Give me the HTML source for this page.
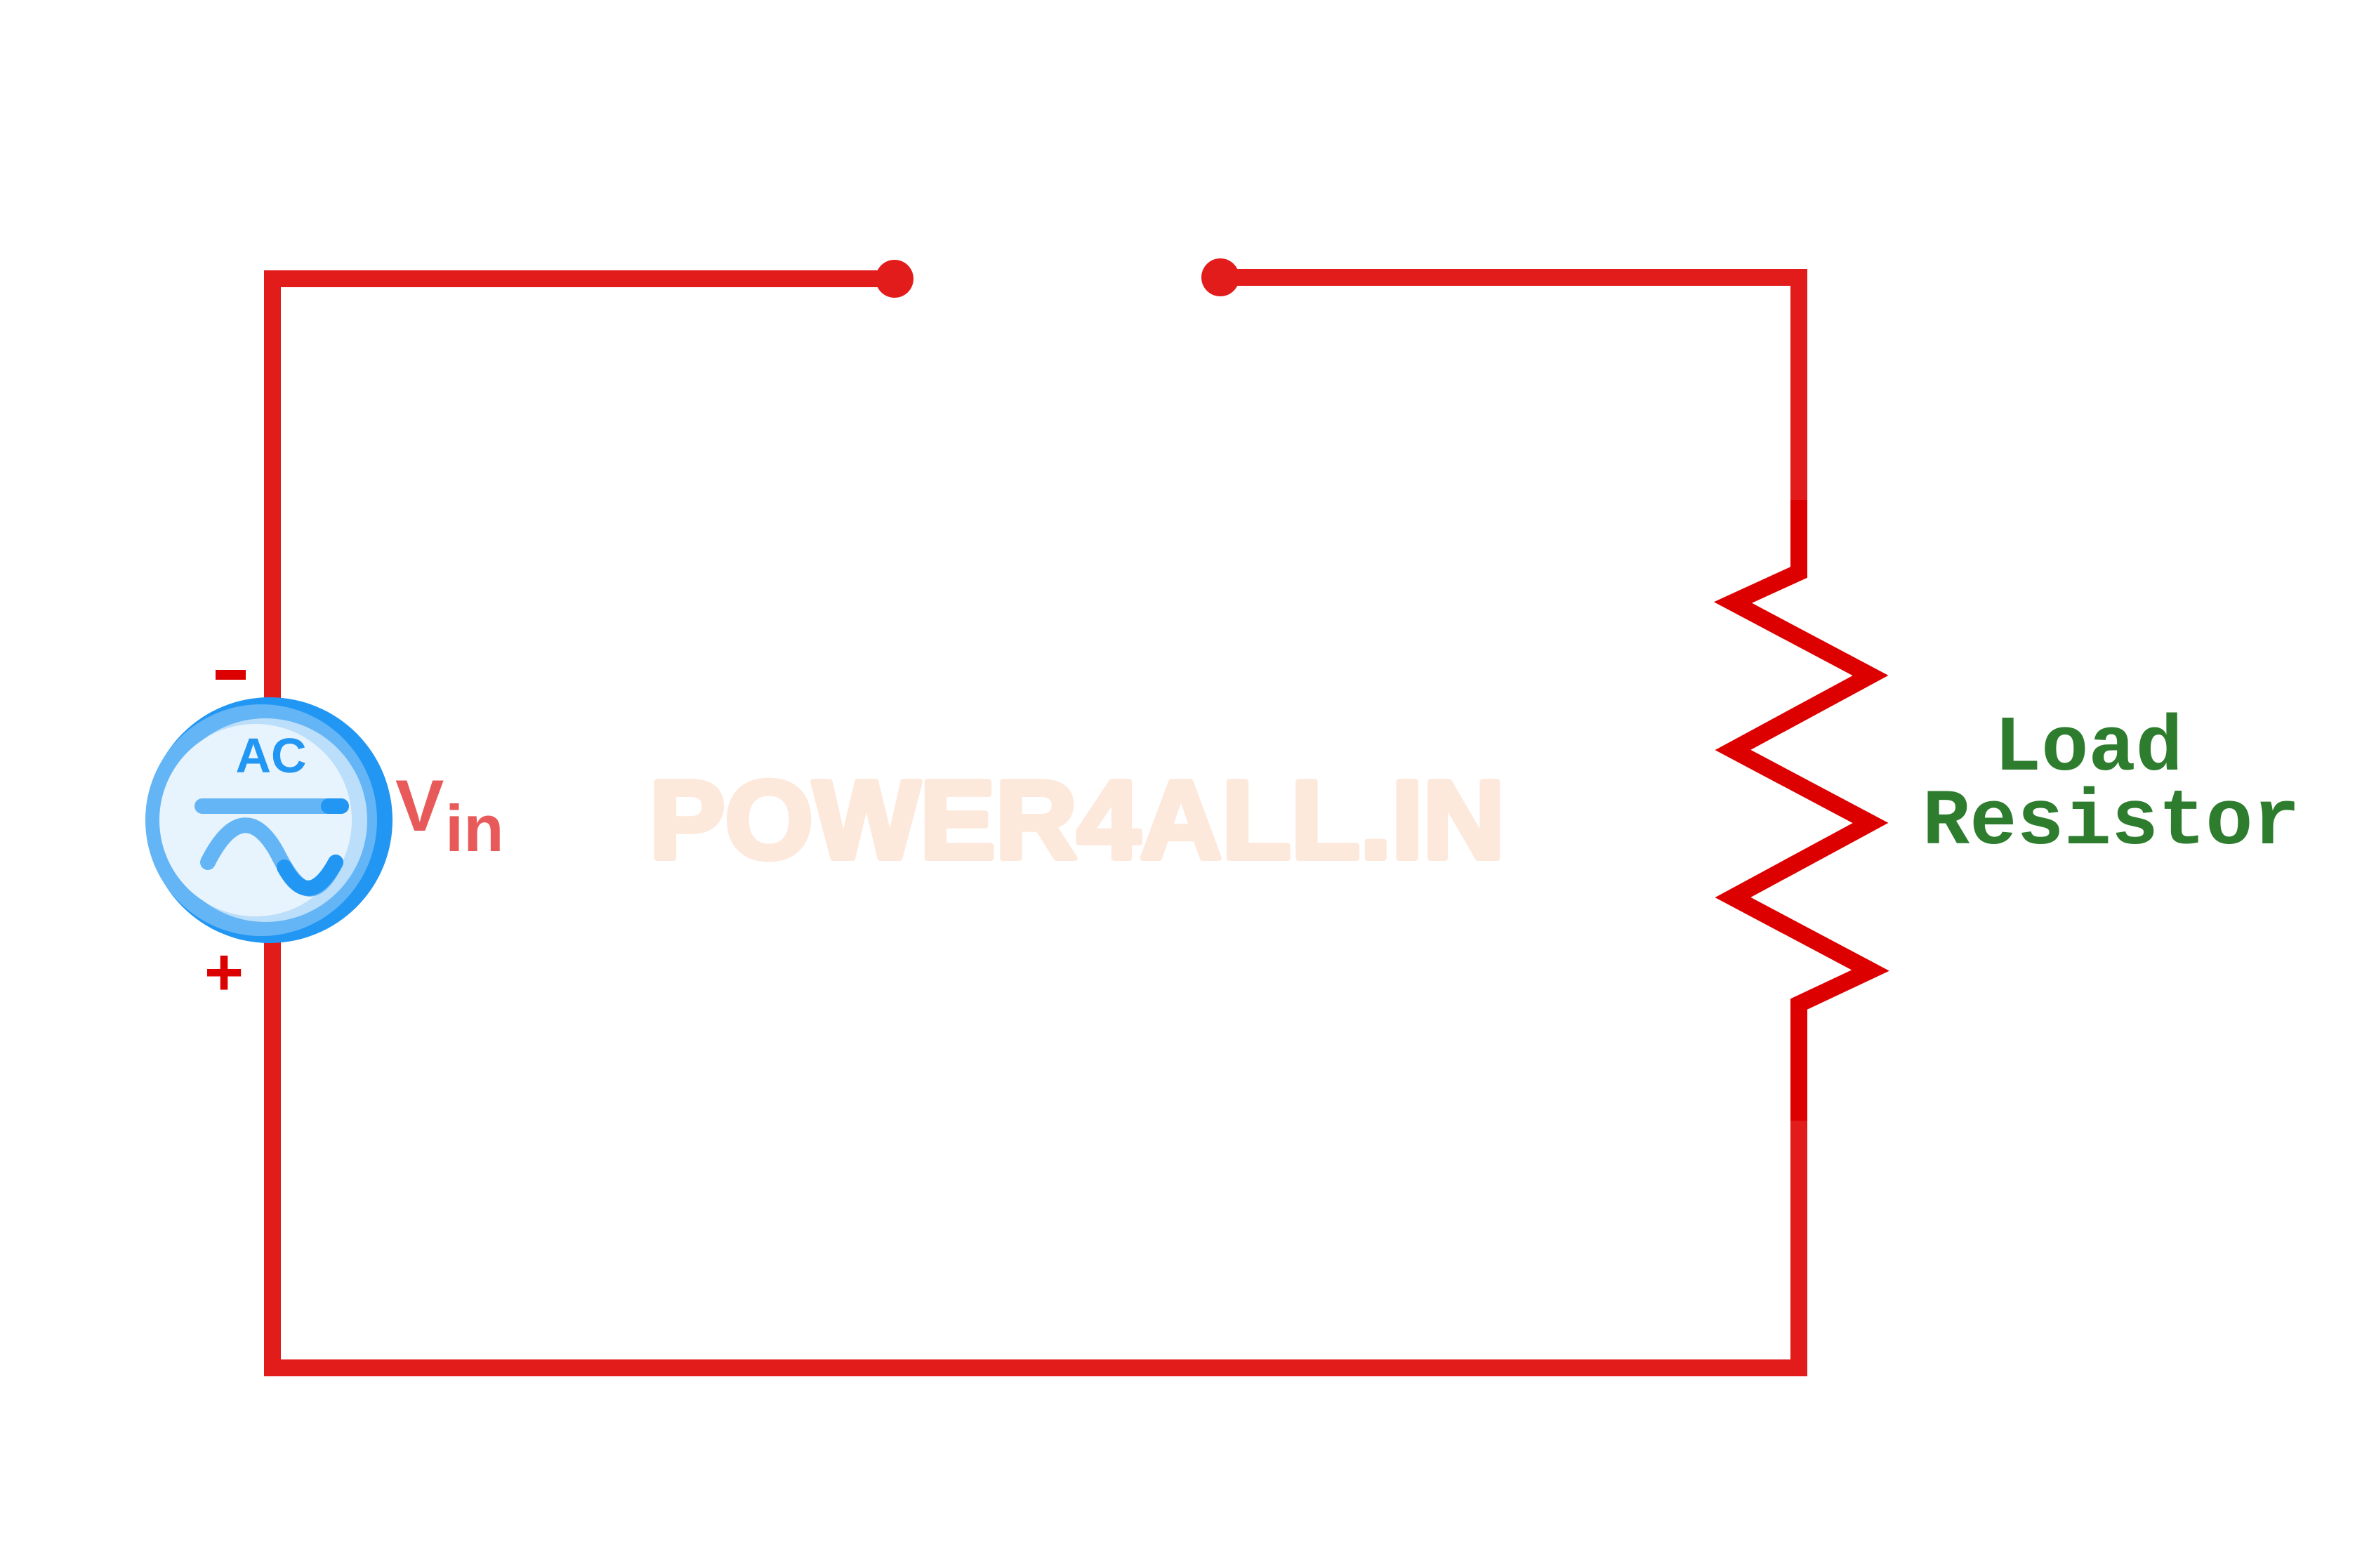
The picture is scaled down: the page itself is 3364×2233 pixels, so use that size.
<!DOCTYPE html>
<html><head><meta charset="utf-8"><style>
html,body{margin:0;padding:0;background:#fff;}
svg{display:block;}
</style></head><body>
<svg width="3364" height="2233" viewBox="0 0 3364 2233" xmlns="http://www.w3.org/2000/svg">
<rect width="3364" height="2233" fill="#fff"/>
<text x="925" y="1222" font-family="Liberation Sans, sans-serif" font-weight="bold" font-size="158" fill="#fde8dc" stroke="#fde8dc" stroke-width="8" stroke-linejoin="round" textLength="1218" lengthAdjust="spacingAndGlyphs">POWER4ALL.IN</text>
<g fill="none" stroke="#e21b1b" stroke-width="24" stroke-linejoin="miter">
<path d="M1274,397 H388 V1948 H2562 V1596"/>
<path d="M1738,395 H2562 V712"/>
</g>
<path d="M2562,712 V815 L2468,858 L2664,962 L2468,1068 L2664,1172 L2468,1278 L2664,1382 L2562,1430 V1596" fill="none" stroke="#dd0000" stroke-width="24" stroke-linejoin="miter" stroke-miterlimit="10"/>
<circle cx="1274" cy="397" r="27" fill="#e21b1b"/>
<circle cx="1738" cy="395" r="27" fill="#e21b1b"/>
<circle cx="384" cy="1168" r="175" fill="#2196f3"/>
<circle cx="372" cy="1168" r="165" fill="#64b5f6"/>
<circle cx="378" cy="1168" r="145" fill="#bbdefb"/>
<circle cx="364" cy="1168" r="137" fill="#e8f4fd"/>
<text x="386" y="1100" text-anchor="middle" font-family="Liberation Sans, sans-serif" font-weight="bold" font-size="70" fill="#2196f3">AC</text>
<line x1="288" y1="1148" x2="486" y2="1148" stroke="#64b5f6" stroke-width="22" stroke-linecap="round"/>
<line x1="468" y1="1148" x2="486" y2="1148" stroke="#2196f3" stroke-width="22" stroke-linecap="round"/>
<path d="M296,1228 C330,1160 365,1160 395,1215 C425,1275 450,1285 478,1228" fill="none" stroke="#64b5f6" stroke-width="22" stroke-linecap="round"/>
<path d="M405,1235 C425,1272 450,1280 478,1228" fill="none" stroke="#2196f3" stroke-width="22" stroke-linecap="round"/>
<text x="563" y="1183" font-family="Liberation Sans, sans-serif" font-weight="bold" font-size="104" fill="#e85a5a">V</text>
<text x="634" y="1212" font-family="Liberation Sans, sans-serif" font-weight="bold" font-size="94" fill="#e85a5a">in</text>
<rect x="307" y="954" width="43" height="14" fill="#dd0000"/>
<text x="319" y="1417" text-anchor="middle" font-family="Liberation Sans, sans-serif" font-weight="bold" font-size="96" fill="#dd0000">+</text>
<text x="2840" y="1096" font-family="Liberation Mono, monospace" font-weight="bold" font-size="112" fill="#2e7d2e">Load</text>
<text x="2738" y="1201" font-family="Liberation Mono, monospace" font-weight="bold" font-size="112" fill="#2e7d2e">Resistor</text>
</svg>
</body></html>
